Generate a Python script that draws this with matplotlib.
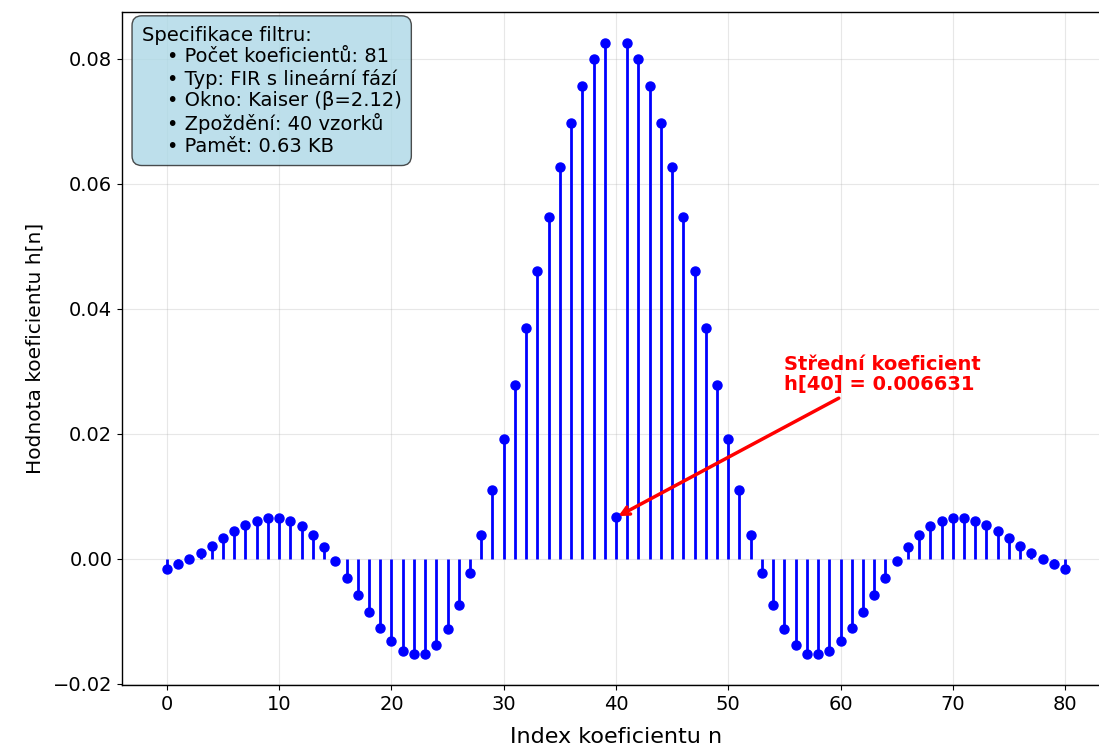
#!/usr/bin/env python3
"""Stem plot of FIR filter coefficients (Kaiser window, 81 taps)."""

import matplotlib

matplotlib.use("Agg")
import matplotlib.pyplot as plt

# left half of the impulse response (n = 0 .. 39)
h_left = [
    -0.00166, -0.00091, -0.00010, 0.00093, 0.00210, 0.00325, 0.00440, 0.00540,
    0.00610, 0.00660, 0.00660, 0.00610, 0.00520, 0.00380, 0.00190, -0.00040,
    -0.00310, -0.00580, -0.00850, -0.01100, -0.01320, -0.01470, -0.01530, -0.01520,
    -0.01380, -0.01120, -0.00740, -0.00230, 0.00376, 0.01107, 0.01915, 0.02780,
    0.03700, 0.04600, 0.05470, 0.06270, 0.06970, 0.07570, 0.08000, 0.08260,
]
h_center = 0.006631
coefs = h_left + [h_center] + h_left[::-1]
n_idx = list(range(len(coefs)))

spec_lines = [
    "Specifikace filtru:",
    "    • Počet koeficientů: 81",
    "    • Typ: FIR s lineární fází",
    "    • Okno: Kaiser (β=2.12)",
    "    • Zpoždění: 40 vzorků",
    "    • Pamět: 0.63 KB",
]
center_label = f"Střední koeficient\nh[40] = {h_center:.6f}"

fig = plt.figure(figsize=(10.99, 7.46), dpi=100)
# axes run past the right edge, as in the (cropped) reference
ax = fig.add_axes([0.111, 0.0818, 0.899, 0.902])

markerline, stemlines, baseline = ax.stem(n_idx, coefs, linefmt="b-", markerfmt="bo", basefmt=" ")
plt.setp(stemlines, linewidth=2)
plt.setp(markerline, markersize=6.5)

ax.grid(True, alpha=0.3)
ax.set_xlabel("Index koeficientu n", fontsize=16, labelpad=9.5)
ax.set_ylabel("Hodnota koeficientu h[n]", fontsize=14.5, labelpad=6)
ax.tick_params(labelsize=14)
for sp in ax.spines.values():
    sp.set_linewidth(1.0)

ax.text(
    0.02, 0.98, "\n".join(spec_lines),
    transform=ax.transAxes, fontsize=14, va="top", ha="left", linespacing=1.17,
    bbox=dict(boxstyle="round,pad=0.5", facecolor="lightblue", alpha=0.8, edgecolor="#222222"),
)

ax.annotate(
    center_label,
    xy=(40, h_center), xytext=(55, 0.027),
    fontsize=14, fontweight="bold", color="red", linespacing=1.06,
    arrowprops=dict(arrowstyle="->", color="red", lw=2.5),
)

fig.savefig("out.png", dpi=100)
